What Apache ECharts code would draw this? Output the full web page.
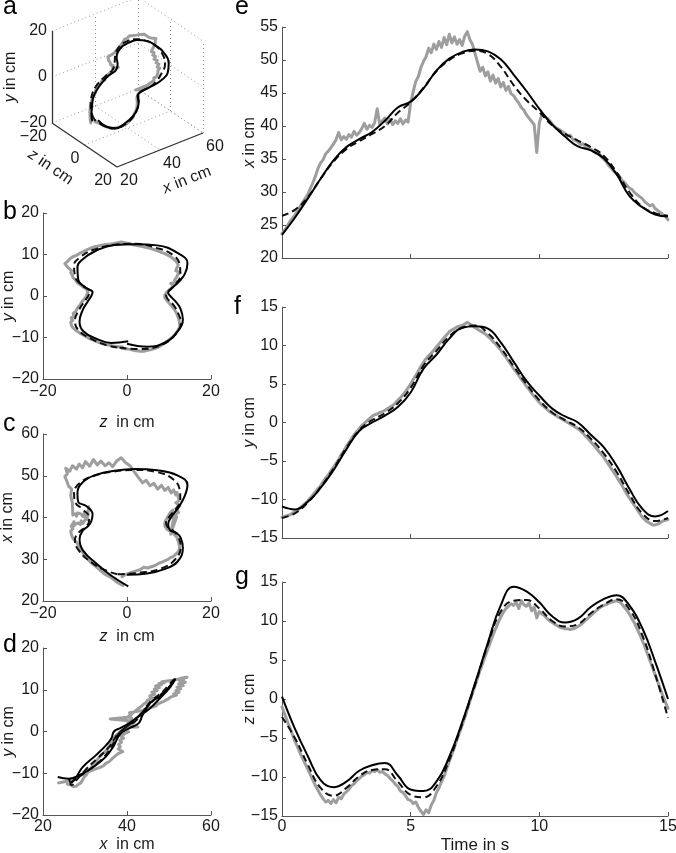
<!DOCTYPE html>
<html><head><meta charset="utf-8">
<script src="https://cdn.jsdelivr.net/npm/echarts@6/dist/echarts.min.js"></script>
<style>html,body{margin:0;padding:0;background:#fff}#c{width:676px;height:853px}</style>
</head><body><div id="c"></div>
<script>
// ---------------- DATA ----------------
// time base of the smooth (black) traces, seconds
const tBlack = [0,0.5,1,1.5,2,2.5,3,3.5,4,4.5,5,5.5,6,6.5,7,7.5,8,8.5,9,9.5,10,10.5,11,11.5,12,12.5,13,13.5,14,14.5,15];
// x, y, z in cm – black solid trace
const xSolid = [23.5,26.1,29.0,32.0,34.8,36.8,38.0,39.1,40.8,42.8,43.7,45.7,48.4,50.2,51.2,51.6,51.3,50.1,47.8,45.3,42.6,40.2,38.4,36.9,36.3,35.1,32.7,29.4,27.7,26.6,26.3];
const ySolid = [-10.9,-11.3,-10.3,-8.5,-6.2,-3.5,-1.1,0.0,0.9,2.0,3.9,7.0,8.8,10.9,12.3,12.5,12.2,10.4,7.9,5.4,3.5,1.8,0.8,0.0,-1.6,-3.2,-5.6,-8.6,-11.2,-12.2,-11.5];
const zSolid = [0.3,-3.8,-7.3,-10.4,-11.3,-10.6,-9.2,-8.5,-8.2,-9.8,-11.6,-11.8,-10.6,-7.4,-3.0,2.0,7.2,12.0,14.4,13.8,12.4,10.6,9.8,10.3,11.8,12.8,13.3,12.0,9.1,4.8,0.0];
// black dashed trace
const xDashed = [26.4,27.3,29.2,32.0,34.6,36.5,37.7,38.8,40.0,42.0,43.6,45.8,48.3,50.0,51.0,51.4,50.9,49.0,46.2,43.9,42.1,40.1,38.8,37.8,36.8,35.5,33.0,30.0,27.8,26.8,26.4];
const yDashed = [-12.4,-11.8,-10.4,-8.4,-6.0,-3.3,-1.0,0.3,1.2,2.5,4.5,7.4,9.3,11.2,12.3,12.6,11.6,9.7,7.3,5.0,2.9,1.3,0.3,-0.6,-2.1,-4.0,-6.4,-9.3,-11.8,-12.8,-12.4];
const zDashed = [-2.3,-5.0,-8.4,-11.4,-12.4,-11.4,-9.9,-9.1,-9.0,-10.6,-12.3,-12.6,-11.2,-7.8,-3.2,1.8,7.0,11.2,12.6,12.7,11.6,10.0,9.3,9.6,11.0,12.1,12.8,11.5,8.2,3.2,-2.4];
// gray (measured) trace, sampled every GRAY_DT seconds
const GRAY_DT = 0.1;
const xGray = [
 23.7,24.2,24.8,25.5,26.0,26.5,27.1,27.8,28.4,29.0,
 29.6,30.5,31.4,32.4,33.6,34.4,34.9,35.8,36.2,36.7,
 37.3,37.9,39.0,37.9,38.4,38.0,38.7,38.3,39.2,38.6,
 39.0,39.6,40.4,39.5,40.1,39.8,40.5,42.6,40.2,40.8,
 41.2,40.3,41.0,40.2,40.8,40.4,41.1,40.3,40.9,40.6,
 43.5,45.2,46.8,47.5,48.9,49.8,50.5,51.8,51.1,52.4,
 51.6,52.8,51.9,53.4,52.3,53.9,52.6,53.5,52.4,53.1,
 52.2,53.6,54.3,53.1,52.4,51.0,49.6,48.3,48.9,47.6,
 48.2,46.8,47.7,46.5,47.2,45.9,46.6,45.4,46.0,44.9,
 44.6,44.0,43.5,42.8,42.4,41.7,41.2,40.7,40.2,36.0,
 40.5,41.8,41.5,41.2,40.8,40.3,39.9,39.6,39.4,39.1,
 38.9,38.5,38.6,38.0,37.8,37.6,37.2,37.3,36.8,36.6,
 36.5,36.2,35.9,36.0,35.4,35.0,34.6,34.0,33.6,33.1,
 32.8,32.4,31.8,31.5,31.0,30.6,30.4,29.9,29.6,29.3,
 29.0,28.5,28.2,27.9,28.1,27.5,27.2,26.9,26.6,26.3,
 25.8];
const yGray = [
 -12.3,-12.2,-12.1,-12.0,-11.8,-11.6,-11.4,-11.1,-10.8,-10.5,
 -10.2,-9.8,-9.4,-9.0,-8.6,-8.2,-7.7,-7.2,-6.8,-6.3,
 -5.8,-5.3,-4.8,-4.2,-3.7,-3.1,-2.6,-2.1,-1.6,-1.2,
 -0.8,-0.4,-0.1,0.2,0.5,0.8,1.0,1.1,1.3,1.4,
 1.6,1.8,2.0,2.2,2.5,2.9,3.2,3.6,4.0,4.5,
 5.0,5.6,6.1,6.7,7.3,7.8,8.3,8.7,9.0,9.4,
 9.8,10.2,10.6,11.0,11.4,11.8,12.0,12.2,12.4,12.5,
 12.6,12.8,13.0,12.8,12.6,12.3,12.1,11.9,11.7,11.5,
 11.2,10.9,10.5,10.2,9.8,9.4,8.9,8.5,8.0,7.5,
 7.0,6.6,6.1,5.6,5.2,4.7,4.3,3.8,3.4,3.0,
 2.6,2.3,2.0,1.7,1.4,1.2,1.0,0.8,0.6,0.4,
 0.2,0.0,-0.2,-0.4,-0.6,-0.8,-1.1,-1.4,-1.8,-2.1,
 -2.5,-2.9,-3.3,-3.7,-4.1,-4.5,-5.0,-5.5,-6.0,-6.5,
 -7.0,-7.6,-8.1,-8.7,-9.3,-9.8,-10.3,-10.8,-11.3,-11.8,
 -12.3,-12.6,-12.9,-13.1,-13.3,-13.3,-13.2,-13.0,-12.8,-12.7,
 -12.6];
const zGray = [
 -1.0,-1.9,-2.8,-3.6,-4.5,-5.4,-6.1,-6.9,-7.6,-8.3,
 -9.0,-9.7,-10.4,-11.1,-11.7,-12.3,-12.8,-13.2,-13.0,-13.4,
 -12.9,-13.3,-12.6,-12.8,-12.2,-11.9,-11.6,-11.1,-10.9,-10.5,
 -10.2,-9.9,-9.7,-9.4,-9.5,-9.2,-9.3,-9.1,-9.4,-9.3,
 -9.6,-9.8,-10.2,-10.5,-10.9,-11.2,-11.8,-12.0,-12.4,-12.9,
 -13.0,-13.4,-13.2,-13.9,-14.4,-14.8,-14.2,-14.6,-13.6,-13.0,
 -12.0,-11.4,-10.6,-9.9,-8.9,-8.0,-7.1,-6.2,-5.2,-4.3,
 -3.4,-2.4,-1.4,-0.3,0.7,1.7,2.7,3.7,4.6,5.5,
 6.4,7.3,8.2,9.0,9.8,10.5,11.1,11.6,11.9,12.2,
 12.0,12.4,11.6,12.6,12.1,11.9,12.3,11.3,11.8,10.4,
 11.2,10.9,10.7,10.3,10.0,9.8,9.6,9.4,9.2,9.1,
 9.0,9.0,8.9,9.0,9.1,9.3,9.5,9.8,10.1,10.4,
 10.7,11.0,11.3,11.6,11.8,12.0,12.1,12.3,12.4,12.5,
 12.6,12.5,12.2,11.8,11.4,10.9,10.3,9.7,9.0,8.3,
 7.5,6.7,5.8,4.9,4.0,3.1,2.2,1.3,0.4,-0.4,
 -1.2];
const tGray = xGray.map((_, i) => +(i * GRAY_DT).toFixed(1));

// 3-D box extents and tick values (panel a)
const box3X = [20, 60], box3Y = [-20, 20], box3Z = [-20, 20];
const ticks3X = [20, 40, 60], ticks3Y = [-20, 0, 20], ticks3Z = [-20, 0, 20];

// ---------------- STYLE / LAYOUT ----------------
const FONT = '"Liberation Sans", Arial, Helvetica, sans-serif';
const AX = '#555', TXT = '#1a1a1a';
const FS = 16;
const ST = {
  gray:  {color: '#9e9e9e', width: 3, type: 'solid', cap: 'round', join: 'round'},
  dash:  {color: '#111', width: 2, type: [7, 4]},
  solid: {color: '#000', width: 2, type: 'solid'}
};
const fmtMinus = v => (v < 0 ? '\u2212' + Math.abs(v) : String(v));
const richI = {i: {fontStyle: 'italic', fontSize: FS, fontFamily: FONT, color: TXT}};

// simple oblique projection for panel a (pixel space)
function proj(x, y, z) {
  const fx = (x - box3X[0]) / (box3X[1] - box3X[0]);
  const fy = (y - box3Y[0]) / (box3Y[1] - box3Y[0]);
  const fz = (z - box3Z[0]) / (box3Z[1] - box3Z[0]);
  return [52 + fx * 86 + fz * 65, 123 - fx * 34 + fz * 44 - fy * 92];
}

const grids = [
  {left: 0, top: 0, width: 676, height: 853},       // 0: panel a (pixel space)
  {left: 43, top: 213, width: 168, height: 166},    // 1: b
  {left: 43, top: 434, width: 168, height: 167},    // 2: c
  {left: 43, top: 648, width: 168, height: 167},    // 3: d
  {left: 282, top: 27, width: 386, height: 231},    // 4: e
  {left: 282, top: 307, width: 386, height: 231},   // 5: f
  {left: 282, top: 582, width: 386, height: 234}    // 6: g
].map(g => Object.assign({containLabel: false, outerBoundsMode: 'none'}, g));

function vAxis(gi, min, max, interval, o) {
  o = o || {};
  return {
    gridIndex: gi, type: 'value', min, max, interval,
    axisLine: {show: true, onZero: false, lineStyle: {color: AX, width: 1}},
    axisTick: {show: true, inside: true, length: 4, lineStyle: {color: AX, width: 1}},
    axisLabel: {show: o.labels !== false, color: TXT, fontSize: FS, fontFamily: FONT,
                margin: o.margin || 4, formatter: fmtMinus, showMinLabel: true, showMaxLabel: true},
    splitLine: {show: false},
    name: o.name || '', nameLocation: 'middle', nameGap: o.nameGap || 25, nameMoveOverlap: false,
    nameTextStyle: {color: TXT, fontSize: o.nameSize || FS, fontFamily: FONT, rich: richI}
  };
}

const xAxes = [
  {gridIndex: 0, type: 'value', min: 0, max: 676, show: false},
  vAxis(1, -20, 20, 20, {name: '{i|z}  in cm', nameGap: 36, margin: 5}),
  vAxis(2, -20, 20, 20, {name: '{i|z}  in cm', nameGap: 28, margin: 5}),
  vAxis(3, 20, 60, 20, {name: '{i|x}  in cm', nameGap: 22, margin: 4}),
  vAxis(4, 0, 15, 5, {labels: false}),
  vAxis(5, 0, 15, 5, {labels: false}),
  vAxis(6, 0, 15, 5, {name: 'Time in s', nameGap: 21, nameSize: 17, margin: 3})
];
const yAxes = [
  {gridIndex: 0, type: 'value', min: 0, max: 853, inverse: true, show: false},
  vAxis(1, -20, 20, 10, {name: '{i|y} in cm', nameGap: 26}),
  vAxis(2, 20, 60, 10, {name: '{i|x} in cm', nameGap: 27}),
  vAxis(3, -20, 20, 10, {name: '{i|y} in cm', nameGap: 26}),
  vAxis(4, 20, 55, 5, {name: '{i|x} in cm', nameGap: 24}),
  vAxis(5, -15, 15, 5, {name: '{i|y} in cm', nameGap: 24}),
  vAxis(6, -15, 15, 5, {name: '{i|z} in cm', nameGap: 24})
];

function lineSeries(gi, data, st, smooth, z) {
  return {type: 'line', xAxisIndex: gi, yAxisIndex: gi, data, symbol: 'none', showSymbol: false,
          smooth: smooth ? 0.45 : false, lineStyle: st, z, silent: true, animation: false, clip: gi !== 0};
}
const pairs = (a, b) => a.map((v, i) => [v, b[i]]);

const series = [];
// time-series panels e, f, g
[[4, xGray, xDashed, xSolid], [5, yGray, yDashed, ySolid], [6, zGray, zDashed, zSolid]].forEach(([gi, g, d, s]) => {
  series.push(lineSeries(gi, pairs(tGray, g), ST.gray, false, 2));
  series.push(lineSeries(gi, pairs(tBlack, d), ST.dash, true, 3));
  series.push(lineSeries(gi, pairs(tBlack, s), ST.solid, true, 4));
});
// projections b (z,y), c (z,x), d (x,y)
[[1, [zGray, yGray], [zDashed, yDashed], [zSolid, ySolid]],
 [2, [zGray, xGray], [zDashed, xDashed], [zSolid, xSolid]],
 [3, [xGray, yGray], [xDashed, yDashed], [xSolid, ySolid]]].forEach(([gi, g, d, s]) => {
  series.push(lineSeries(gi, pairs(g[0], g[1]), ST.gray, false, 2));
  series.push(lineSeries(gi, pairs(d[0], d[1]), ST.dash, true, 3));
  series.push(lineSeries(gi, pairs(s[0], s[1]), ST.solid, true, 4));
});
// panel a: 3-D view
const [X0, X1] = box3X, [Y0, Y1] = box3Y, [Z0, Z1] = box3Z;
const seg = (a, b) => ({coords: [proj(...a), proj(...b)]});
const gridSegs = [];
ticks3X.filter(v => v !== X0).forEach(v => {
  gridSegs.push(seg([v, Y0, Z0], [v, Y1, Z0]));   // back wall verticals
  gridSegs.push(seg([v, Y0, Z0], [v, Y0, Z1]));   // floor lines
});
ticks3Y.forEach(v => {
  gridSegs.push(seg([X0, v, Z0], [X1, v, Z0]));   // back wall horizontals
  gridSegs.push(seg([X1, v, Z0], [X1, v, Z1]));   // right wall horizontals
});
ticks3Z.filter(v => v !== Z0).forEach(v => {
  gridSegs.push(seg([X1, Y0, v], [X1, Y1, v]));   // right wall verticals
  gridSegs.push(seg([X0, Y0, v], [X1, Y0, v]));   // floor lines
});
series.push({type: 'lines', coordinateSystem: 'cartesian2d', xAxisIndex: 0, yAxisIndex: 0,
  data: gridSegs, lineStyle: {color: '#999', width: 1, type: [1, 3], opacity: 1}, z: 1, silent: true, animation: false});
series.push({type: 'lines', coordinateSystem: 'cartesian2d', xAxisIndex: 0, yAxisIndex: 0,
  data: [seg([X0, Y0, Z0], [X0, Y1, Z0]), seg([X0, Y0, Z0], [X0, Y0, Z1]), seg([X0, Y0, Z1], [X1, Y0, Z1])],
  lineStyle: {color: '#333', width: 1.3, type: 'solid', opacity: 1}, z: 5, silent: true, animation: false});
const p3 = (xs, ys, zs) => xs.map((v, i) => proj(v, ys[i], zs[i]));
series.push(lineSeries(0, p3(xGray, yGray, zGray), ST.gray, false, 2));
series.push(lineSeries(0, p3(xDashed, yDashed, zDashed), ST.dash, true, 3));
series.push(lineSeries(0, p3(xSolid, ySolid, zSolid), ST.solid, true, 4));

// ---------------- TEXT (graphic) ----------------
function txt(x, y, text, o) {
  o = o || {};
  const size = o.size || FS;
  return {type: 'text', x, y, rotation: o.rot || 0, silent: true, z: 10,
    style: {text, fill: o.color || TXT, fontSize: size, fontFamily: FONT,
      align: o.align || 'center', verticalAlign: o.valign || 'middle',
      textAlign: o.align || 'center', textVerticalAlign: o.valign || 'middle',
      rich: {i: {fontStyle: 'italic', fontSize: size, fontFamily: FONT, fill: o.color || TXT, color: o.color || TXT}}}};
}
const graphics = [];
[['a', 3, 7], ['b', 3, 212], ['c', 3, 424], ['d', 3, 645], ['e', 235, 7], ['f', 234, 307], ['g', 235, 577]]
  .forEach(([s, x, y]) => graphics.push(txt(x, y, s, {size: 25, align: 'left', color: '#000'})));
// panel a ticks
ticks3Y.forEach(v => { const p = proj(X0, v, Z0); graphics.push(txt(p[0] - 5, p[1], fmtMinus(v), {align: 'right'})); });
ticks3Z.forEach(v => { const p = proj(X0, Y0, v); graphics.push(txt(p[0] - 5, p[1] + 14, fmtMinus(v), {align: 'right'})); });
ticks3X.forEach(v => { const p = proj(v, Y0, Z1); graphics.push(txt(p[0] + 3, p[1] + 14, fmtMinus(v), {align: 'left'})); });
// panel a axis names
{
  const pz = proj(X0, Y0, (Z0 + Z1) / 2), px = proj((X0 + X1) / 2, Y0, Z1);
  const az = Math.atan2(44, 65), ax = Math.atan2(34, 86);
  graphics.push(txt(pz[0] - 34, pz[1] + 22, '{i|z} in cm', {rot: -az}));
  graphics.push(txt(px[0] + 27, px[1] + 30, '{i|x} in cm', {rot: ax}));
  graphics.push(txt(11, 77, '{i|y} in cm', {rot: Math.PI / 2}));
}

const chart = echarts.init(document.getElementById('c'), null, {renderer: 'canvas', width: 676, height: 853});
chart.setOption({
  backgroundColor: '#fff',
  animation: false,
  grid: grids, xAxis: xAxes, yAxis: yAxes,
  series, graphic: graphics
});
</script></body></html>
